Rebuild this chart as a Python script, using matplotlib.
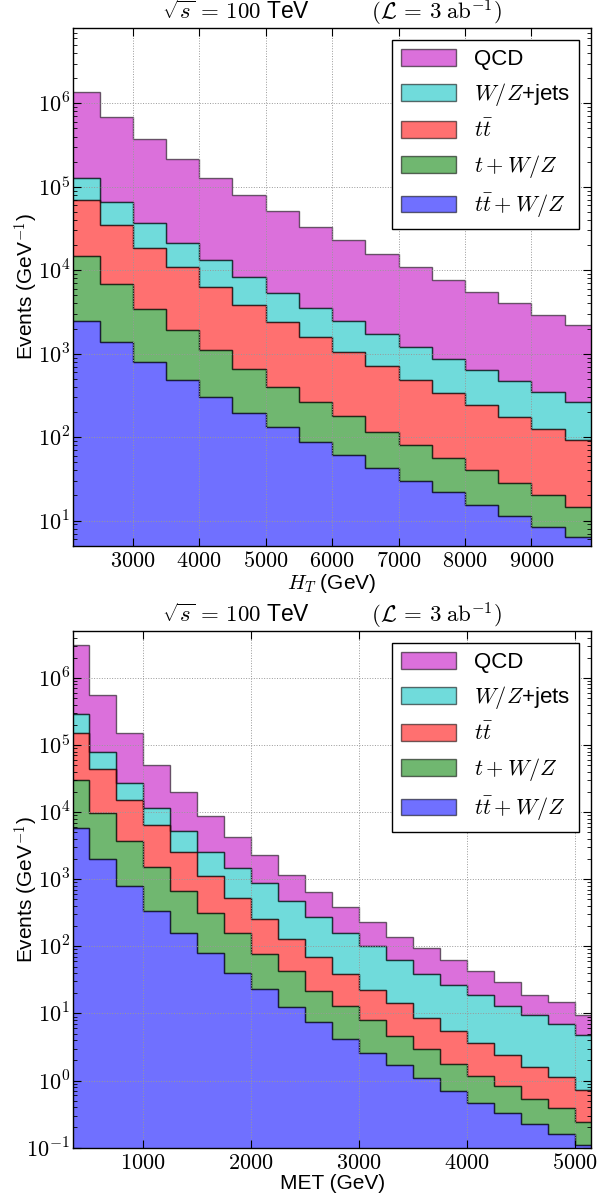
import numpy as np
import matplotlib
matplotlib.use('Agg')
import matplotlib.pyplot as plt
from matplotlib.ticker import FuncFormatter, FixedLocator, LogLocator, MultipleLocator

plt.rcParams['font.family'] = ['Liberation Sans', 'DejaVu Sans']
plt.rcParams['mathtext.fontset'] = 'cm'

# processes, listed top of the stack first (legend order)
labels = ['QCD', r'$W/Z$+jets', r'$t\bar{t}$', r'$t+W/Z$', r'$t\bar{t}+W/Z$']
colors = ['m', 'c', 'r', 'g', 'b']

# H_T distribution, 500 GeV bins
ht_edges = np.arange(2000, 10001, 500)
ht_qcd = [1244000, 614000, 333000, 192600, 112900, 70700, 45700, 29440,
          20360, 13760, 9800, 6730, 4860, 3520, 2555, 1940]
ht_wz = [56000, 31400, 18500, 10400, 6800, 4430, 2900, 1980,
         1380, 1032, 710, 531, 397, 304, 219, 170]
ht_tt = [55300, 27700, 15040, 9060, 5190, 3210, 2000, 1318,
         882, 592, 410, 283, 204, 145, 106, 78]
ht_twz = [12260, 5530, 2654, 1450, 809, 466, 273, 175,
          117, 74, 50.5, 34, 24.5, 16.6, 11.6, 8.3]
ht_ttwz = [2440, 1370, 806, 490, 301, 195, 131, 86.7,
           61, 42.3, 30, 21.8, 15.5, 11.4, 8.4, 6.3]

# MET distribution, 250 GeV bins
met_edges = np.arange(250, 5251, 250)
met_qcd = [2838000, 473600, 121500, 38800, 14930, 6230, 2740, 1449, 689, 366,
           233, 133, 78.3, 54.8, 34.8, 23.8, 16.6, 9.7, 7.9, 4.7]
met_wz = [140000, 35900, 12300, 5230, 2760, 1440, 933, 617, 351, 203,
          120, 78, 47.4, 30.6, 21.5, 15.0, 10.4, 7.8, 5.76, 3.98]
met_tt = [122100, 33640, 11450, 4970, 1849, 814, 369, 176.6, 87.6, 47.8,
          26.4, 14.7, 9.7, 5.66, 3.66, 2.40, 1.56, 1.07, 0.75, 0.48]
met_twz = [24000, 7860, 2967, 1159, 503, 237, 117.4, 54.5, 29.9, 13.9,
           8.66, 5.28, 2.9, 1.86, 1.04, 0.70, 0.50, 0.30, 0.23, 0.134]
met_ttwz = [5900, 2000, 783, 341, 158, 79, 40.6, 22.9, 12.5, 7.5,
            4.14, 2.62, 1.70, 1.08, 0.70, 0.468, 0.326, 0.226, 0.159, 0.110]

title = (r'$\sqrt{s}\,=\,100$ TeV          '
         r'$(\mathcal{L}\,=\,3\;\mathrm{ab}^{-1})$')


def draw(ax, edges, series, xlabel, xlim, ylim, xstep):
    centers = 0.5 * (edges[1:] + edges[:-1])
    # stack from the bottom: ttW/Z first, QCD last
    ax.hist([centers] * 5, bins=edges, weights=series[::-1], stacked=True,
            histtype='stepfilled', color=colors[::-1], label=labels[::-1],
            alpha=0.56, edgecolor='k', linewidth=1.0)
    ax.set_yscale('log')
    ax.set_xlim(*xlim)
    ax.set_ylim(*ylim)
    ax.xaxis.set_major_locator(MultipleLocator(xstep))
    # only label decades that lie inside the y range
    lo, hi = np.ceil(np.log10(ylim[0])), np.floor(np.log10(ylim[1]))
    ax.yaxis.set_major_locator(FixedLocator(10.0 ** np.arange(lo, hi + 1)))
    ax.yaxis.set_minor_locator(LogLocator(base=10, subs=np.arange(2, 10), numticks=20))
    ax.xaxis.set_major_formatter(FuncFormatter(lambda v, p: r'$%d$' % v))
    ax.yaxis.set_major_formatter(FuncFormatter(lambda v, p: r'$10^{%d}$' % round(np.log10(v))))
    ax.tick_params(which='both', direction='in', top=True, right=True, labelsize=16)
    ax.tick_params(which='major', length=6)
    ax.tick_params(which='minor', length=3)
    ax.tick_params(axis='y', which='major', pad=2)
    ax.tick_params(axis='x', which='major', pad=4)
    ax.grid(True, which='major', linestyle=':', color='0.6', linewidth=0.7)
    ax.set_xlabel(xlabel, fontsize=15, labelpad=0)
    ax.set_ylabel(r'Events (GeV$^{-1}$)', fontsize=15)
    ax.yaxis.set_label_coords(-0.062, 0.5)
    ax.set_title(title, fontsize=16.5, pad=3)
    h, l = ax.get_legend_handles_labels()
    ax.legend(h, l, loc='upper right', fontsize=16, fancybox=False,
              edgecolor='k', framealpha=1, handlelength=2.5, handleheight=0.78,
              labelspacing=0.5, borderaxespad=0.55, borderpad=0.4,
              handletextpad=0.8)
    for s in ax.spines.values():
        s.set_linewidth(1.0)


fig = plt.figure(figsize=(6.06, 11.96), dpi=100)
ax1 = fig.add_axes([0.1205, 0.5437, 0.855, 0.4329])
ax2 = fig.add_axes([0.1205, 0.0404, 0.855, 0.432])

draw(ax1, ht_edges, [ht_qcd, ht_wz, ht_tt, ht_twz, ht_ttwz],
     r'$H_T$ (GeV)', (2100, 9900), (5, 8e6), 1000)
draw(ax2, met_edges, [met_qcd, met_wz, met_tt, met_twz, met_ttwz],
     'MET (GeV)', (350, 5150), (0.1, 5e6), 1000)

fig.savefig('out.png', dpi=100)
